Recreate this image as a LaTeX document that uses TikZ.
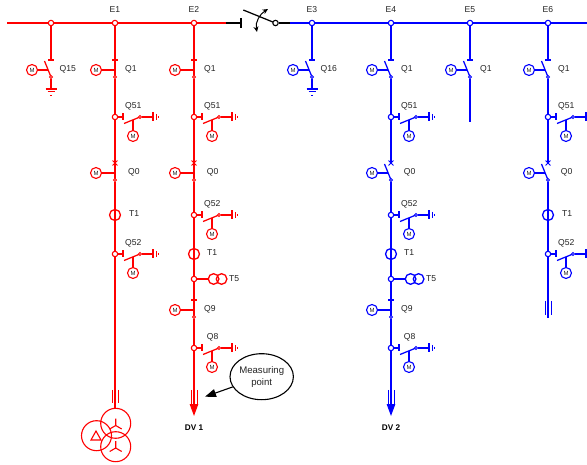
\documentclass[tikz,border=0pt]{standalone}
\usepackage{fontspec}
\setmainfont{Liberation Sans}
\usetikzlibrary{arrows.meta,shapes.geometric}
\definecolor{lbl}{RGB}{35,35,35}
\tikzset{
  wire/.style={line width=1.25pt},
  thinwire/.style={line width=1pt},
  motor/.style={circle,draw,line width=1.1pt,fill=white,minimum size=11pt,inner sep=0pt,
    font=\fontsize{6}{6}\selectfont,text=lbl},
  junction/.style={circle,draw,line width=1.1pt,fill=white,minimum size=5.4pt,inner sep=0pt},
  smalldot/.style={circle,draw,line width=0.9pt,fill=white,minimum size=3pt,inner sep=0pt},
  ctcircle/.style={circle,draw,line width=1.3pt,minimum size=11pt,inner sep=0pt},
  vtcircle/.style={circle,draw,line width=1.3pt,minimum size=10.6pt,inner sep=0pt},
  tfcircle/.style={circle,draw,line width=1.1pt,minimum size=30pt,inner sep=0pt},
  lab/.style={font=\fontsize{8.6}{10}\selectfont,text=lbl,inner sep=0pt,anchor=west},
  buslab/.style={font=\fontsize{8.6}{10}\selectfont,text=lbl,inner sep=0pt},
  dvlab/.style={font=\bfseries\fontsize{8.2}{10}\selectfont,text=black,inner sep=0pt},
}
% vertical earth at x,y
\newcommand\EarthV[2]{%
  \draw[wire] (#1,#2-4.5) -- (#1,#2+4.5);
  \draw[thinwire] (#1+3,#2-3) -- (#1+3,#2+3);
  \draw[line width=0.8pt] (#1+5,#2-1.2) -- (#1+5,#2+1.2);}
% id, x, y(tick), open 1/closed 0, cross 1/bar 0, label, label offset
\newcommand\VSw[7]{%
  \coordinate (#1t) at (#2,#3);
  \coordinate (#1c) at (#2,#3+10);
  \ifnum#5=1
    \draw[thinwire] (#2-2.4,#3-2.4) -- (#2+2.4,#3+2.4) (#2-2.4,#3+2.4) -- (#2+2.4,#3-2.4);
  \else
    \draw[wire] (#2-3,#3) -- (#2+3,#3);
  \fi
  \node[motor] (#1m) at (#2-19,#3+10) {M};
  \ifnum#4=1
    \draw[wire] (#2-6.5,#3+1) -- (#2,#3+17);
    \draw[wire] (#1m) -- (#2-3.4,#3+10);
  \else
    \draw[wire] (#1t) -- (#2,#3+17);
    \draw[wire] (#1m) -- (#1c);
  \fi
  \node[smalldot] (#1b) at (#2,#3+17) {};
  \node[lab] (#1l) at (#2+#7,#3+9.3) {#6};}
% id, x, y, label, label offset
\newcommand\TeeSw[5]{%
  \node[junction] (#1j) at (#2,#3) {};
  \coordinate (#1k) at (#2+8,#3);
  \draw[wire] (#1j) -- (#1k);
  \draw[wire] (#2+8,#3-3.5) -- (#2+8,#3+3.5);
  \draw[wire] (#2+9,#3+6.5) -- (#2+25,#3);
  \node[smalldot] (#1d) at (#2+25,#3) {};
  \coordinate (#1e) at (#2+38,#3);
  \draw[wire] (#1d) -- (#1e);
  \EarthV{#2+38}{#3}
  \node[motor] (#1m) at (#2+18,#3+19) {M};
  \coordinate (#1a) at (#2+18,#3+3);
  \draw[wire] (#1a) -- (#1m);
  \node[lab] (#1l) at (#2+#5,#3-10.7) {#4};}
% wye symbol
\newcommand\Wye[2]{%
  \draw[line width=1.1pt] (#1,#2) -- (#1,#2-7) (#1,#2) -- (#1-6,#2+3.5) (#1,#2) -- (#1+6,#2+3.5);}
% three-phase bars
\newcommand\Triple[3]{%
  \draw[thinwire] (#1-3,#2) -- (#1-3,#3) (#1+3,#2) -- (#1+3,#3);}
\begin{document}
\begin{tikzpicture}[x=1pt,y=-1pt]
\useasboundingbox (0,0) rectangle (587,465);
% ---------- RED ----------
\begin{scope}[red]
\coordinate (busL) at (7,23);
\coordinate (busM) at (226,23);
\draw[wire] (busL) -- (busM);
\node[buslab] (lE1) at (115,9.5) {E1};
\node[buslab] (lE2) at (194,9.5) {E2};
% Q15
\VSw{qa}{51}{60}{1}{0}{Q15}{8.5}
\node[junction] (j15) at (51,23) {};
\draw[wire] (j15) -- (qat);
\coordinate (gnda) at (51,89);
\draw[wire] (qab) -- (gnda);
\draw[wire] (45.5,89) -- (56.5,89);
\draw[thinwire] (47.5,92) -- (54.5,92);
\draw[line width=0.8pt] (49.8,95) -- (52.2,95);
% E1
\node[junction] (e1) at (115,23) {};
\draw[wire] (e1) -- (115,60);
\VSw{ba}{115}{60}{0}{0}{Q1}{10}
\VSw{bb}{115}{163}{0}{1}{Q0}{13}
\node[ctcircle] (bt) at (115,215) {};
\coordinate (bz) at (115,408);
\draw[wire] (bab) -- (bbt);
\draw[wire] (bbb) -- (bz);
\TeeSw{bc}{115}{117}{Q51}{10}
\TeeSw{bd}{115}{254}{Q52}{10}
\node[lab] (btl) at (129,214) {T1};
\Triple{115}{390}{403}
\node[tfcircle] (tfa) at (115.7,423.3) {};
\node[tfcircle] (tfb) at (115.7,446.7) {};
\node[tfcircle] (tfc) at (96.5,435.7) {};
\Wye{115.7}{425.5}
\Wye{115.7}{448}
\draw[line width=1.1pt] (91,440) -- (96,431) -- (101,440) -- cycle;
% E2
\node[junction] (e2) at (194,23) {};
\draw[wire] (e2) -- (194,60);
\VSw{ca}{194}{60}{0}{0}{Q1}{10}
\VSw{cb}{194}{163}{0}{1}{Q0}{12.7}
\coordinate (cz) at (194,416);
\draw[wire] (cab) -- (cbt);
\draw[wire] (cbb) -- (194,300);
\TeeSw{cc}{194}{117}{Q51}{10}
\TeeSw{cd}{194}{215}{Q52}{10}
\node[ctcircle] (ct) at (194,254) {};
\node[lab] (ctl) at (207,253) {T1};
\node[junction] (cv) at (194,279) {};
\coordinate (cvw) at (208.5,279);
\draw[wire] (cv) -- (cvw);
\node[vtcircle] (cva) at (213.6,279) {};
\node[vtcircle] (cvb) at (221.6,279) {};
\node[lab] (cvl) at (229,278.3) {T5};
\VSw{ce}{194}{300}{0}{0}{Q9}{10}
\draw[-{Triangle[length=12pt,width=8.5pt]},wire] (ceb) -- (cz);
\TeeSw{cf}{194}{348}{Q8}{12.7}
\Triple{194}{390}{404}
\node[dvlab] (dv1) at (194,428) {DV 1};
\end{scope}
% ---------- TIE ----------
\coordinate (sws) at (241,23);
\draw[wire] (busM) -- (sws);
\draw[wire] (241,18) -- (241,28);
\draw[wire] (243.3,10) -- (275.3,23);
\node[junction,draw=black,fill=white] (swo) at (275.5,23) {};
\coordinate (busN) at (290,23);
\draw[wire] (swo) -- (busN);
\draw[line width=1pt,{Stealth[length=5.5pt,width=5pt]}-{Stealth[length=5.5pt,width=5pt]}]
  (257,32) .. controls (255,22) and (260,14) .. (268,9);
% ---------- BLUE ----------
\begin{scope}[blue]
\coordinate (busR) at (587,23);
\draw[wire] (busN) -- (busR);
\node[buslab] (lE3) at (312,9.5) {E3};
\node[buslab] (lE4) at (391,9.5) {E4};
\node[buslab] (lE5) at (470,9.5) {E5};
\node[buslab] (lE6) at (548,9.5) {E6};
% E3 Q16
\node[junction] (e3) at (312,23) {};
\VSw{da}{312}{60}{1}{0}{Q16}{8.5}
\draw[wire] (e3) -- (dat);
\coordinate (gndd) at (312,89);
\draw[wire] (dab) -- (gndd);
\draw[wire] (306.5,89) -- (317.5,89);
\draw[thinwire] (308.5,92) -- (315.5,92);
\draw[line width=0.8pt] (310.8,95) -- (313.2,95);
% E4
\node[junction] (e4) at (391,23) {};
\VSw{ea}{391}{60}{1}{0}{Q1}{10}
\draw[wire] (e4) -- (eat);
\VSw{eb}{391}{163}{1}{1}{Q0}{12.7}
\draw[wire] (eab) -- (ebt);
\draw[wire] (ebb) -- (391,300);
\TeeSw{ec}{391}{117}{Q51}{10}
\TeeSw{ed}{391}{215}{Q52}{10}
\node[ctcircle] (et) at (391,254) {};
\node[lab] (etl) at (404,253) {T1};
\node[junction] (ev) at (391,279) {};
\coordinate (evw) at (405.5,279);
\draw[wire] (ev) -- (evw);
\node[vtcircle] (eva) at (410.6,279) {};
\node[vtcircle] (evb) at (418.6,279) {};
\node[lab] (evl) at (426,278.3) {T5};
\VSw{ee}{391}{300}{0}{0}{Q9}{10}
\coordinate (ez) at (391,416);
\draw[-{Triangle[length=12pt,width=8.5pt]},wire] (eeb) -- (ez);
\TeeSw{ef}{391}{348}{Q8}{12.7}
\Triple{391}{390}{404}
\node[dvlab] (dv2) at (391,428) {DV 2};
% E5
\node[junction] (e5) at (470,23) {};
\VSw{fa}{470}{60}{1}{0}{Q1}{10}
\draw[wire] (e5) -- (fat);
\coordinate (fz) at (470,122);
\draw[wire] (fab) -- (fz);
% E6
\node[junction] (e6) at (548,23) {};
\VSw{ga}{548}{60}{1}{0}{Q1}{10}
\draw[wire] (e6) -- (gat);
\VSw{gb}{548}{163}{1}{1}{Q0}{12.7}
\draw[wire] (gab) -- (gbt);
\coordinate (gz) at (548,318);
\draw[wire] (gbb) -- (gz);
\TeeSw{gc}{548}{117}{Q51}{10}
\node[ctcircle] (gt) at (548,215) {};
\node[lab] (gtl) at (562,214) {T1};
\TeeSw{gd}{548}{254}{Q52}{10}
\Triple{548}{301}{315}
\end{scope}
% ---------- Measuring point ----------
\node[ellipse,draw=black,line width=1.1pt,minimum width=62pt,minimum height=46pt,inner sep=0pt,
  align=center,font=\fontsize{9.6}{12}\selectfont,text=lbl] (mp) at (261.7,376.7) {Measuring\\point};
\coordinate (mpt) at (205,396.7);
\draw[line width=1.1pt,-{Triangle[length=11pt,width=8pt]}] (mp) -- (mpt);
\end{tikzpicture}
\end{document}
